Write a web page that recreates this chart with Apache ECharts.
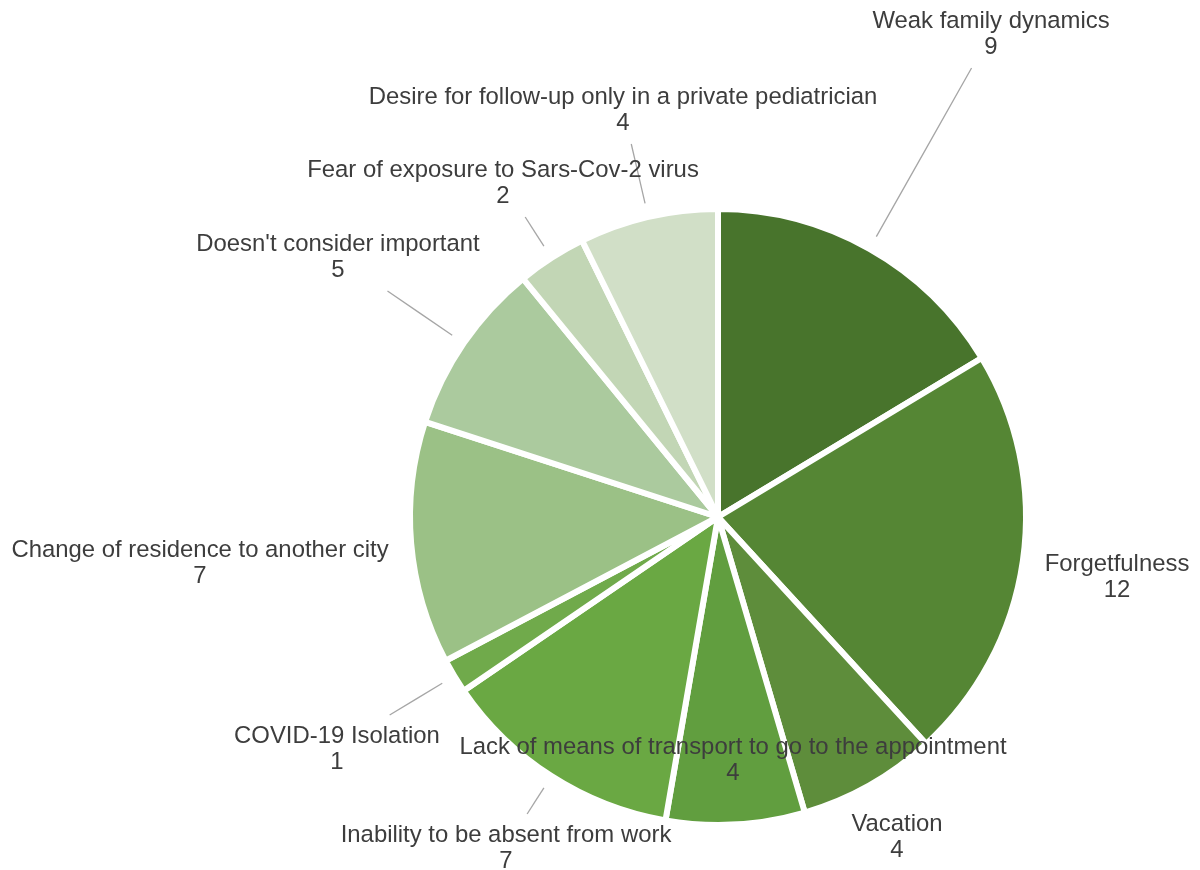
<!DOCTYPE html>
<html>
<head>
<meta charset="utf-8">
<title>Reasons for missed follow-up</title>
<script src="https://cdn.jsdelivr.net/npm/echarts@6/dist/echarts.min.js"></script>
<style>
  html, body { margin: 0; padding: 0; background: #ffffff; }
  #chart { width: 1200px; height: 870px; }
</style>
</head>
<body>
<div id="chart"></div>
<script>
// Reasons, clockwise from 12 o'clock
const reasons = [
  'Weak family dynamics',
  'Forgetfulness',
  'Vacation',
  'Lack of means of transport to go to the appointment',
  'Inability to be absent from work',
  'COVID-19 Isolation',
  'Change of residence to another city',
  "Doesn't consider important",
  'Fear of exposure to Sars-Cov-2 virus',
  'Desire for follow-up only in a private pediatrician'
];
const counts = [9, 12, 4, 4, 7, 1, 7, 5, 2, 4];

const sliceColors = [
  '#48742c', '#558634', '#5e8d3b', '#619e3f', '#6aa843',
  '#70aa4b', '#9bc186', '#abca9e', '#c2d6b5', '#d1dfc7'
];

// Centre of each two-line label block (name + count), in pixels
const labelAnchors = [
  [991, 34], [1117, 577], [897, 837], [733, 760], [506, 848],
  [337, 749], [200, 563], [338, 257], [503, 183], [623, 110]
];

const CX = 718, CY = 517, RADIUS = 308;
const FONT_SIZE = 23.9, LINE_H = 26;
const FONT_FAMILY = '"Liberation Sans", Arial, Helvetica, sans-serif';

const total = counts.reduce((a, b) => a + b, 0);

// Text measurement for the label boxes
const measureCtx = document.createElement('canvas').getContext('2d');
measureCtx.font = FONT_SIZE + 'px ' + FONT_FAMILY;
function labelBox(i) {
  const w = Math.max(measureCtx.measureText(reasons[i]).width,
                     measureCtx.measureText(String(counts[i])).width);
  const [ax, ay] = labelAnchors[i];
  return { x0: ax - w / 2, x1: ax + w / 2, y0: ay - LINE_H, y1: ay + LINE_H };
}

// Radial leader line: from just outside the slice, along its mid-angle,
// to where it meets the (padded) label box. Null when the label sits next to the slice.
function leaderFor(i) {
  let before = 0;
  for (let k = 0; k < i; k++) before += counts[k];
  const mid = (before + counts[i] / 2) / total * Math.PI * 2;
  const dx = Math.sin(mid), dy = -Math.cos(mid);
  const b = labelBox(i), pad = 8;
  const bx0 = b.x0 - pad, bx1 = b.x1 + pad, by0 = b.y0 - pad, by1 = b.y1 + pad;
  let tmin = -Infinity, tmax = Infinity;
  [[dx, CX, bx0, bx1], [dy, CY, by0, by1]].forEach(([d, o, lo, hi]) => {
    if (Math.abs(d) < 1e-9) {
      if (o < lo || o > hi) { tmin = Infinity; }
    } else {
      let t1 = (lo - o) / d, t2 = (hi - o) / d;
      if (t1 > t2) [t1, t2] = [t2, t1];
      tmin = Math.max(tmin, t1);
      tmax = Math.min(tmax, t2);
    }
  });
  const start = RADIUS + 14;
  if (!(tmin <= tmax) || !isFinite(tmin) || tmin < start + 20) return null;
  const p = t => [CX + dx * t, CY + dy * t];
  return [p(start), p((start + tmin) / 2), p(tmin)];
}

const leaders = reasons.map((_, i) => leaderFor(i));

const seriesData = reasons.map((name, i) => ({
  name: name,
  value: counts[i],
  itemStyle: { color: sliceColors[i] },
  labelLine: { show: !!leaders[i] }
}));

const chart = echarts.init(document.getElementById('chart'), null, { renderer: 'canvas' });
chart.setOption({
  backgroundColor: '#ffffff',
  animation: false,
  series: [{
    type: 'pie',
    center: [CX, CY],
    radius: RADIUS,
    startAngle: 90,
    clockwise: true,
    avoidLabelOverlap: false,
    itemStyle: { borderColor: '#ffffff', borderWidth: 6 },
    emphasis: { disabled: true },
    label: {
      show: true,
      position: 'outside',
      formatter: '{b}\n{c}',
      width: 620,
      overflow: 'none',
      color: '#3d3d3d',
      fontFamily: FONT_FAMILY,
      fontSize: FONT_SIZE,
      lineHeight: LINE_H,
      align: 'center'
    },
    labelLine: {
      show: true,
      lineStyle: { color: '#a6a6a6', width: 1.3 }
    },
    labelLayout: function (params) {
      const i = params.dataIndex;
      const out = {
        x: labelAnchors[i][0],
        y: labelAnchors[i][1],
        align: 'center',
        verticalAlign: 'middle'
      };
      if (leaders[i]) out.labelLinePoints = leaders[i];
      return out;
    },
    data: seriesData
  }]
});
</script>
</body>
</html>
